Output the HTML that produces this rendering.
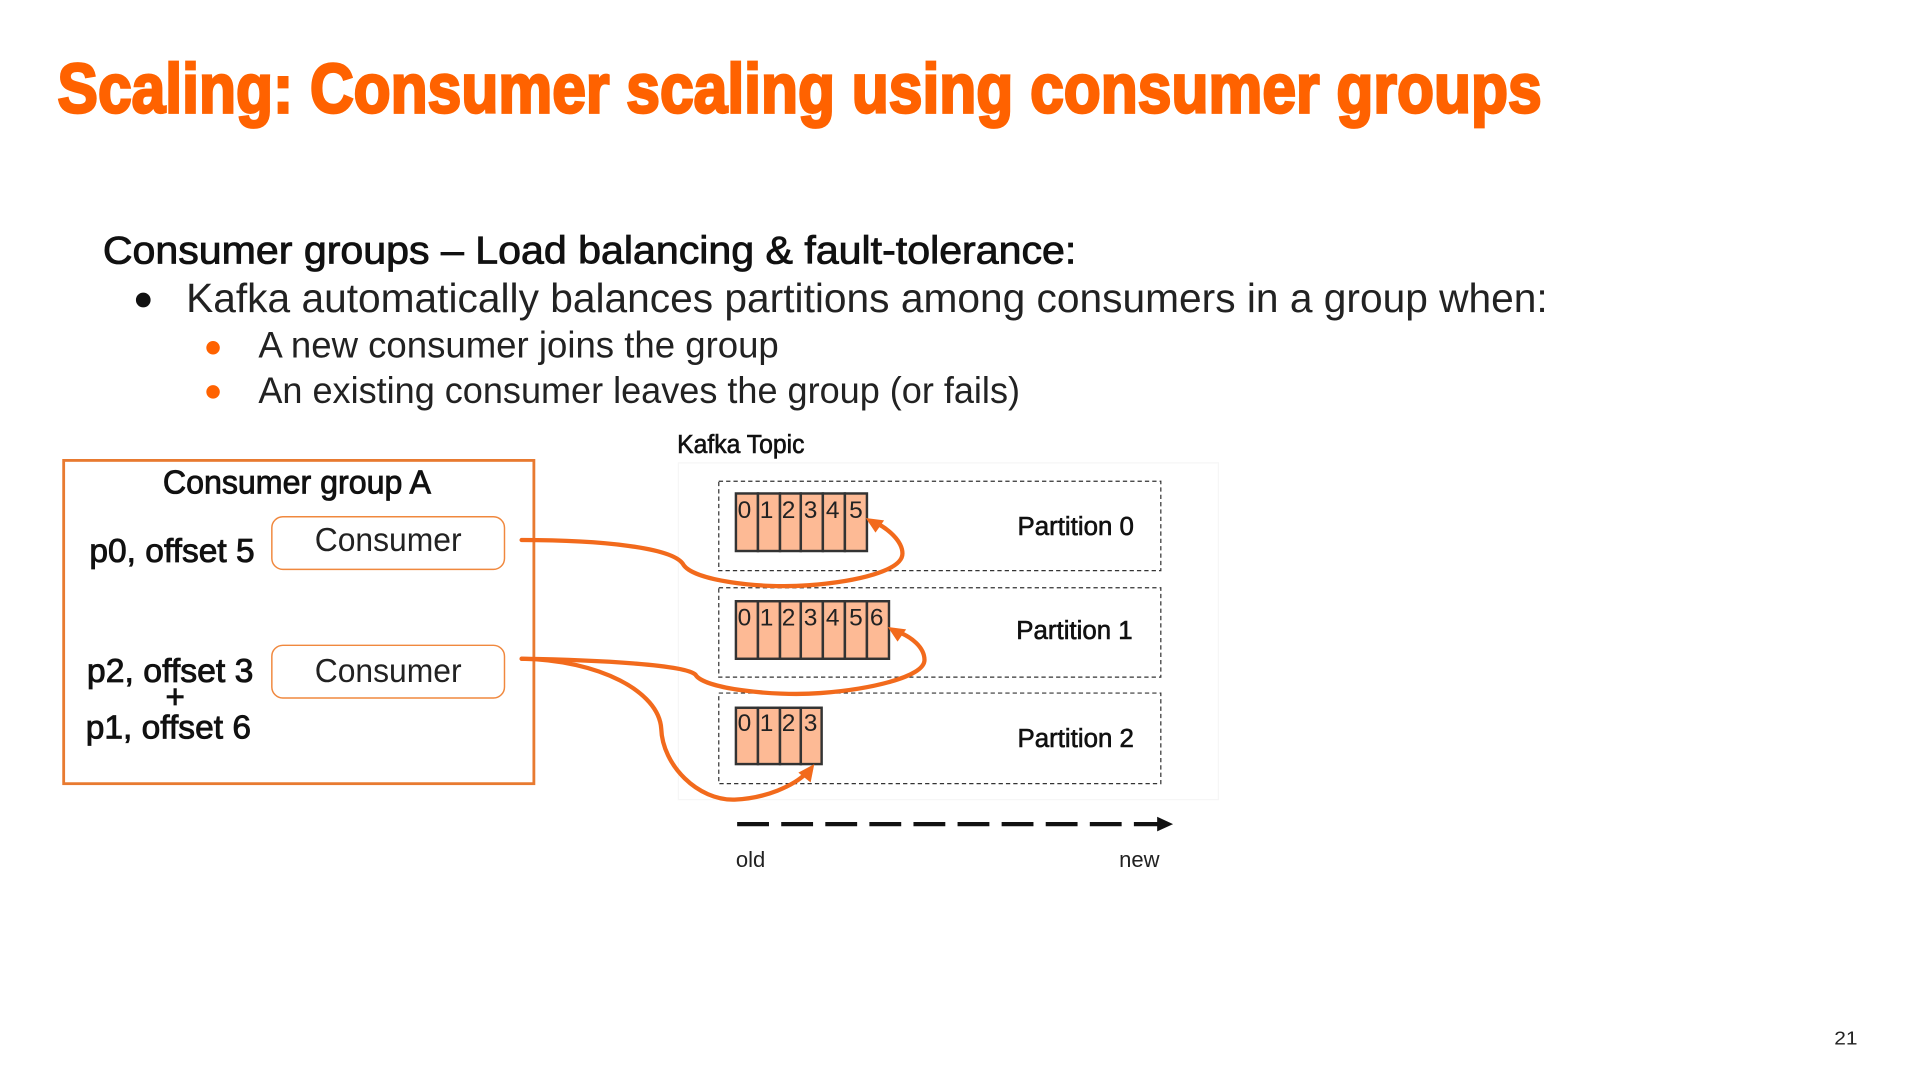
<!DOCTYPE html>
<html><head><meta charset="utf-8"><style>
html,body{margin:0;padding:0;background:#fff}
svg{display:block;width:1920px;height:1080px}
text{font-family:"Liberation Sans",sans-serif;fill:#111}
.m{stroke:#111;stroke-width:.7px}
.l{fill:#222}
.d{font-size:20px;text-anchor:middle;fill:#222}
.c{fill:#fdba95;stroke:#333;stroke-width:2}
.p{fill:none;stroke:#333;stroke-width:1;stroke-dasharray:3.5 2.5}
.o{fill:none;stroke:#f26a1c;stroke-width:3.5;stroke-linecap:round}
</style></head><body>
<svg viewBox="0 0 1568 882" xmlns="http://www.w3.org/2000/svg">
<rect width="1568" height="882" fill="#fff"/>
<text x="47" y="92" font-size="57" font-weight="bold" textLength="1212" lengthAdjust="spacingAndGlyphs" style="fill:#ff6200;stroke:#ff6200;stroke-width:2.2px">Scaling: Consumer scaling using consumer groups</text>
<text class="m" x="84" y="215" font-size="32" textLength="795" lengthAdjust="spacingAndGlyphs">Consumer groups – Load balancing &amp; fault-tolerance:</text>
<circle cx="117" cy="245" r="6" fill="#111"/>
<text class="l" x="152" y="255" font-size="33" textLength="1112" lengthAdjust="spacingAndGlyphs">Kafka automatically balances partitions among consumers in a group when:</text>
<circle cx="174" cy="284" r="5.5" fill="#ff6200"/>
<text class="l" x="211" y="292" font-size="30" textLength="425" lengthAdjust="spacingAndGlyphs">A new consumer joins the group</text>
<circle cx="174" cy="320" r="5.5" fill="#ff6200"/>
<text class="l" x="211" y="329" font-size="30" textLength="622" lengthAdjust="spacingAndGlyphs">An existing consumer leaves the group (or fails)</text>

<rect x="52" y="376" width="384" height="264" fill="none" stroke="#e87a30" stroke-width="2.3"/>
<text class="m" x="133" y="403" font-size="27" textLength="219" lengthAdjust="spacingAndGlyphs">Consumer group A</text>
<rect x="222" y="422" width="190" height="43" rx="9" fill="#fff" stroke="#f0883e" stroke-width="1.2"/>
<rect x="222" y="527" width="190" height="43" rx="9" fill="#fff" stroke="#f0883e" stroke-width="1.2"/>
<text class="l" x="257" y="450" font-size="27" textLength="120" lengthAdjust="spacingAndGlyphs">Consumer</text>
<text class="l" x="257" y="557" font-size="27" textLength="120" lengthAdjust="spacingAndGlyphs">Consumer</text>
<text class="m" x="73" y="459" font-size="27" textLength="135" lengthAdjust="spacingAndGlyphs">p0, offset 5</text>
<text class="m" x="71" y="557" font-size="27" textLength="136" lengthAdjust="spacingAndGlyphs">p2, offset 3</text>
<text class="m" x="143" y="578" font-size="27" text-anchor="middle">+</text>
<text class="m" x="70" y="603" font-size="27" textLength="135" lengthAdjust="spacingAndGlyphs">p1, offset 6</text>

<text class="m" style="stroke-width:.5px" x="553" y="370" font-size="21" textLength="104" lengthAdjust="spacingAndGlyphs">Kafka Topic</text>
<rect x="554" y="378" width="441" height="275" fill="none" stroke="#f6f6f6" stroke-width="1"/>
<rect class="p" x="587" y="393" width="361" height="73"/>
<rect class="p" x="587" y="480" width="361" height="73"/>
<rect class="p" x="587" y="566" width="361" height="74"/>

<g>
<rect class="c" x="601" y="403" width="18" height="47"/><rect class="c" x="619" y="403" width="18" height="47"/><rect class="c" x="637" y="403" width="17" height="47"/><rect class="c" x="654" y="403" width="18" height="47"/><rect class="c" x="672" y="403" width="18" height="47"/><rect class="c" x="690" y="403" width="18" height="47"/>
<rect class="c" x="601" y="491" width="18" height="47"/><rect class="c" x="619" y="491" width="18" height="47"/><rect class="c" x="637" y="491" width="17" height="47"/><rect class="c" x="654" y="491" width="18" height="47"/><rect class="c" x="672" y="491" width="18" height="47"/><rect class="c" x="690" y="491" width="18" height="47"/><rect class="c" x="708" y="491" width="18" height="47"/>
<rect class="c" x="601" y="578" width="18" height="46"/><rect class="c" x="619" y="578" width="18" height="46"/><rect class="c" x="637" y="578" width="17" height="46"/><rect class="c" x="654" y="578" width="17" height="46"/>
</g>
<g>
<text class="d" x="608" y="423">0</text><text class="d" x="626" y="423">1</text><text class="d" x="644" y="423">2</text><text class="d" x="662" y="423">3</text><text class="d" x="680" y="423">4</text><text class="d" x="699" y="423">5</text>
<text class="d" x="608" y="511">0</text><text class="d" x="626" y="511">1</text><text class="d" x="644" y="511">2</text><text class="d" x="662" y="511">3</text><text class="d" x="680" y="511">4</text><text class="d" x="699" y="511">5</text><text class="d" x="716" y="511">6</text>
<text class="d" x="608" y="597">0</text><text class="d" x="626" y="597">1</text><text class="d" x="644" y="597">2</text><text class="d" x="662" y="597">3</text>
</g>
<text class="m" style="stroke-width:.5px" x="831" y="437" font-size="21" textLength="95" lengthAdjust="spacingAndGlyphs">Partition 0</text>
<text class="m" style="stroke-width:.5px" x="830" y="522" font-size="21" textLength="95" lengthAdjust="spacingAndGlyphs">Partition 1</text>
<text class="m" style="stroke-width:.5px" x="831" y="610" font-size="21" textLength="95" lengthAdjust="spacingAndGlyphs">Partition 2</text>

<path class="o" d="M426 441 C490 441 550 447 558 461 C566 474 620 481 660 478 C700 475 737 466 737 452 C737 442 725 431 713 426"/>
<path fill="#f26a1c" d="M707 423 L722 425 L715 435 Z"/>
<path class="o" d="M426 538 C490 539 560 543 568 551 C574 562 630 569 670 566 C710 563 755 553 755 539 C755 529 745 520 731 515"/>
<path fill="#f26a1c" d="M725 512 L740 514 L733 524 Z"/>
<path class="o" d="M426 538 C490 539 538 565 540 595 C541 625 570 654 600 653 C625 652 648 642 659 631"/>
<path fill="#f26a1c" d="M665 624 L662 639 L652 631 Z"/>

<line x1="602" y1="673" x2="947" y2="673" stroke="#111" stroke-width="3.5" stroke-dasharray="26 10"/>
<path fill="#111" d="M958 673 L945 667 L945 679 Z"/>
<text class="l" x="601" y="708" font-size="18" textLength="24" lengthAdjust="spacingAndGlyphs">old</text>
<text class="l" x="914" y="708" font-size="18" textLength="33" lengthAdjust="spacingAndGlyphs">new</text>
<text class="l" x="1498" y="853" font-size="15" textLength="19" lengthAdjust="spacingAndGlyphs">21</text>
</svg>
</body></html>
